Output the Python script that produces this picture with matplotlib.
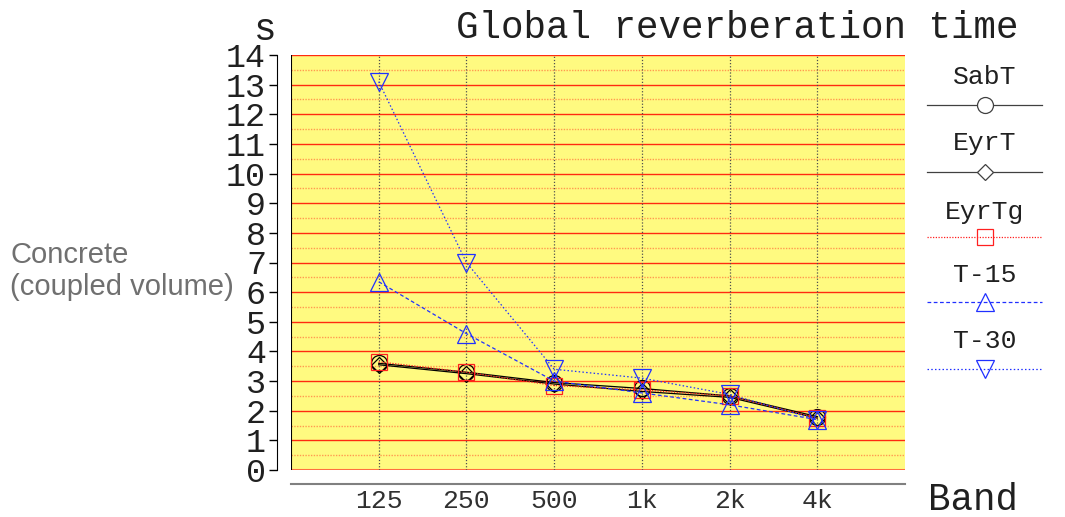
import numpy as np
import matplotlib.pyplot as plt
from matplotlib.lines import Line2D

bands = ['125', '250', '500', '1k', '2k', '4k']
sabt = [3.6, 3.3, 2.95, 2.75, 2.5, 1.8]
eyrt = [3.55, 3.25, 2.9, 2.65, 2.45, 1.75]
eyrtg = [3.65, 3.3, 2.85, 2.7, 2.5, 1.75]
t15 = [6.35, 4.6, 3.0, 2.6, 2.2, 1.7]
t30 = [13.1, 7.0, 3.4, 3.1, 2.55, 1.7]
yticks = list(range(0, 15))

mono = 'Liberation Mono'

fig = plt.figure(figsize=(10.65, 5.17), dpi=100)
ax = fig.add_axes([291/1065, 1-470/517, (905-291)/1065, (470-55)/517])
ax.set_facecolor('#FFFA80')
for s in ['top', 'right']:
    ax.spines[s].set_visible(False)
ax.spines['left'].set_position(('outward', 10))
ax.spines['bottom'].set_position(('outward', 10))
ax.spines['bottom'].set_color('#808080')
ax.spines['bottom'].set_linewidth(1.5)

x = np.arange(len(bands))
ax.set_xlim(-1, len(bands))
ax.set_ylim(0, 14)

# grid: solid red at integers, dotted orange at halves, dotted dark verticals
for v in yticks[1:]:
    ax.axhline(v, color='#FF2A10', lw=1.0, zorder=1)
for v in np.arange(0.5, 14, 1.0):
    ax.axhline(v, color='#FF9A50', lw=1.0, ls=(0, (1, 1)), zorder=1)
ax.axhline(0, color='#FF7040', lw=1.5, zorder=1)
for xi in x:
    ax.axvline(xi, color='#505050', lw=0.9, ls=(0, (1, 1.5)), zorder=1)
ax.axvline(-1, color='black', lw=1.5, zorder=2)

styles = [
    (sabt, 'black', '-', 'o', 11.5),
    (eyrt, 'black', '-', 'D', 8.5),
    (eyrtg, '#FF2020', (0, (1, 1.2)), 's', 11.5),
    (t15, '#2030FF', (0, (3, 2)), '^', 13),
    (t30, '#2030FF', (0, (1.2, 1.8)), 'v', 13),
]
names = ['SabT', 'EyrT', 'EyrTg', 'T-15', 'T-30']
for (vals, c, ls, m, ms) in styles:
    ax.plot(x, vals, color=c, ls=ls, lw=0.9, marker=m, ms=ms,
            mfc='none', mec=c, mew=0.9, zorder=3)

ax.set_xticks(x)
ax.set_xticklabels(bands, fontfamily=mono, fontsize=19, color='#303030')
ax.set_yticks(yticks)
ax.set_yticklabels([str(v) for v in yticks], fontfamily=mono, fontsize=24, color='#202020')
ax.tick_params(axis='x', length=0, pad=4)
ax.tick_params(axis='y', length=6, pad=2, width=1)

fig.text(265/1065, 1-30/517, 's', fontfamily=mono, fontsize=27,
         ha='center', va='center', color='#202020')
fig.text(1018/1065, 1-28/517, 'Global reverberation time', fontfamily=mono,
         fontsize=27, ha='right', va='center', color='#202020')
fig.text(1018/1065, 1-500/517, 'Band', fontfamily=mono, fontsize=27,
         ha='right', va='center', color='#202020')
fig.text(10/1065, 1-271/517, 'Concrete\n(coupled volume)', fontfamily='Liberation Sans',
         fontsize=21, color='#707070', ha='left', va='center', linespacing=1.2)

# legend drawn by hand: label above a short line sample
lax = fig.add_axes([0, 0, 1, 1], facecolor='none')
lax.set_xlim(0, 1065)
lax.set_ylim(517, 0)
lax.axis('off')
text_y = [77, 143, 212, 275, 341]
line_y = [105, 172, 237, 302, 369]
for i, (vals, c, ls, m, ms) in enumerate(styles):
    lc = '#404040' if c == 'black' else c
    lax.text(985, text_y[i], names[i], fontfamily=mono, fontsize=19,
             ha='center', va='center', color='#202020')
    lax.add_line(Line2D([927, 1042], [line_y[i], line_y[i]], color=lc, ls=ls, lw=0.9))
    lax.add_line(Line2D([985], [line_y[i]], marker=m, ms=ms, mfc='white' if c == 'black' else 'none',
                        mec=lc, mew=0.9, ls='none'))

fig.savefig('out.png', dpi=100)
